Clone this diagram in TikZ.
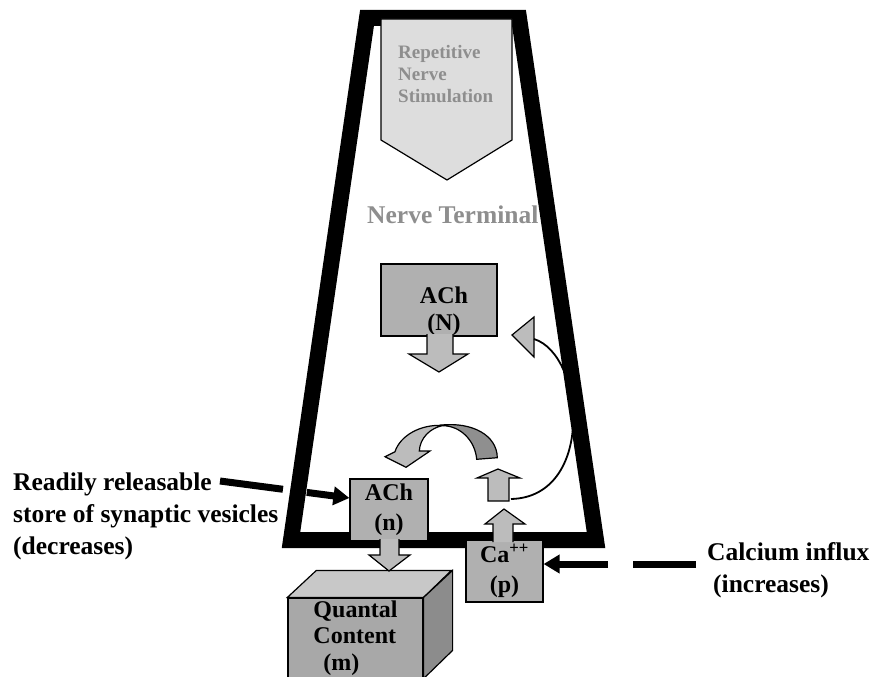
\documentclass[tikz,border=0pt]{standalone}
\usepackage{fontspec}
\setmainfont{Liberation Serif}
\usepackage{xcolor}
\usetikzlibrary{arrows.meta}

\definecolor{boxgray}{HTML}{B0B0B0}
\definecolor{arrowgray}{HTML}{BCBCBC}
\definecolor{stimgray}{HTML}{DDDDDD}
\definecolor{textgray}{HTML}{8E8E8E}
\definecolor{frontgray}{HTML}{A8A8A8}
\definecolor{topgray}{HTML}{C8C8C8}
\definecolor{sidegray}{HTML}{8C8C8C}
\definecolor{bandgray}{HTML}{8F8F8F}

\begin{document}
\begin{tikzpicture}[x=1pt, y=-1pt,
    box/.style={draw, line width=1.2pt, fill=boxgray, inner sep=0pt, align=center,
      font=\bfseries\fontsize{24}{30}\selectfont},
    boxtxt/.style={inner sep=0pt, align=center, font=\bfseries\fontsize{24}{27}\selectfont},
    blk/.style={draw, line width=1.2pt, fill=arrowgray},
    lbl/.style={inner sep=0pt, align=left, font=\bfseries\fontsize{25.5}{32}\selectfont},
    pointer/.style={line width=7pt, -{Triangle[length=16pt,width=18pt]}}]
    \useasboundingbox (0,0) rectangle (870,677);

    % nerve terminal outline
    \draw[line width=16pt, line join=miter] (367,18) -- (519,18) -- (596,540) -- (291,540) -- cycle;

    % stimulation
    \filldraw[fill=stimgray, line width=1.2pt] (381,19) -- (512,19) -- (512,140) -- (447,180) -- (381,140) -- cycle;
    \node[lbl, text=textgray, anchor=west, font=\bfseries\fontsize{19}{22}\selectfont] (rns) at (398,74) {Repetitive\\Nerve\\Stimulation};
    \node[lbl, text=textgray, anchor=west] (nt) at (367,215) {Nerve Terminal};

    % ACh store
    \node[box, minimum width=116pt, minimum height=72pt,
      label={[boxtxt, xshift=5pt, yshift=-11pt]center:ACh\\(N)}] (achN) at (439,300) {};
    \filldraw[blk] (427,334) -- (427,354) -- (409,354) -- (439,372) -- (468,354) -- (453,354) -- (453,334);

    % feedback
    \filldraw[blk] (512,335) -- (534,317) -- (534,357) -- cycle;
    \coordinate (triR) at (534,339);
    \filldraw[blk] (488,501) -- (488,478) -- (477,478) -- (498,469) -- (520,478) -- (509,478) -- (509,501) -- cycle;
    \coordinate (smR) at (511,499);
    \draw[line width=1.8pt] (smR) .. controls (595,497) and (585,355) .. (triR);

    % curved arrow
    \filldraw[fill=arrowgray, line width=1.2pt] (443,425.5) .. controls (420,424) and (400,436) .. (395,451.7)
      -- (385,456.7) -- (406,467.3) -- (430,451) -- (419.3,451) .. controls (420,438) and (430,428) .. (443,425.5) -- cycle;
    \filldraw[fill=bandgray, line width=1.2pt] (441.7,425) .. controls (472,422) and (497,435) .. (497.3,457.7)
      -- (476.7,459.3) .. controls (475,440) and (460,426) .. (443.3,425.7) -- cycle;

    % release
    \node[box, minimum width=78pt, minimum height=62pt] (achn) at (389,510) {ACh\\(n)};
    \node[box, fill=frontgray, minimum width=135pt, minimum height=80pt, align=left,
      font=\bfseries\fontsize{24}{26.5}\selectfont] (qc) at (355.5,638) {Quantal\\Content\\\hspace*{10pt}(m)};
    \filldraw[fill=topgray, line width=1.2pt] (qc.north west) -- ++(29,-27) -- ++(135,0) -- (qc.north east) -- cycle;
    \filldraw[fill=sidegray, line width=1.2pt] (qc.north east) -- ++(29,-27) -- ++(0,80) -- (qc.south east) -- cycle;
    \filldraw[blk] (380,539) -- (380,555) -- (369,555) -- (389,571) -- (410,555) -- (399,555) -- (399,539);

    % calcium
    \node[box, minimum width=77pt, minimum height=62pt] (ca) at (504.5,571) {Ca\textsuperscript{++}\\(p)};
    \filldraw[blk] (493,542) -- (493,524) -- (485,524) -- (504,509) -- (525,524) -- (513,524) -- (513,542);

    % side labels
    \node[lbl, anchor=west] (rrs) at (13,516) {Readily releasable\\store of synaptic vesicles\\(decreases)};
    \coordinate (rrsend) at (220,481);
    \draw[pointer, dash pattern=on 63.5pt off 24pt on 200pt off 1pt] (rrsend) -- ([yshift=12pt]achn.west);
    \node[lbl, anchor=west] (cal) at (707,570) {Calcium influx\\\hspace*{6pt}(increases)};
    \draw[pointer, dash pattern=on 63pt off 25pt on 200pt off 1pt] ([xshift=-11pt, yshift=6pt]cal.west) -- ([yshift=7pt]ca.east);
\end{tikzpicture}
\end{document}
